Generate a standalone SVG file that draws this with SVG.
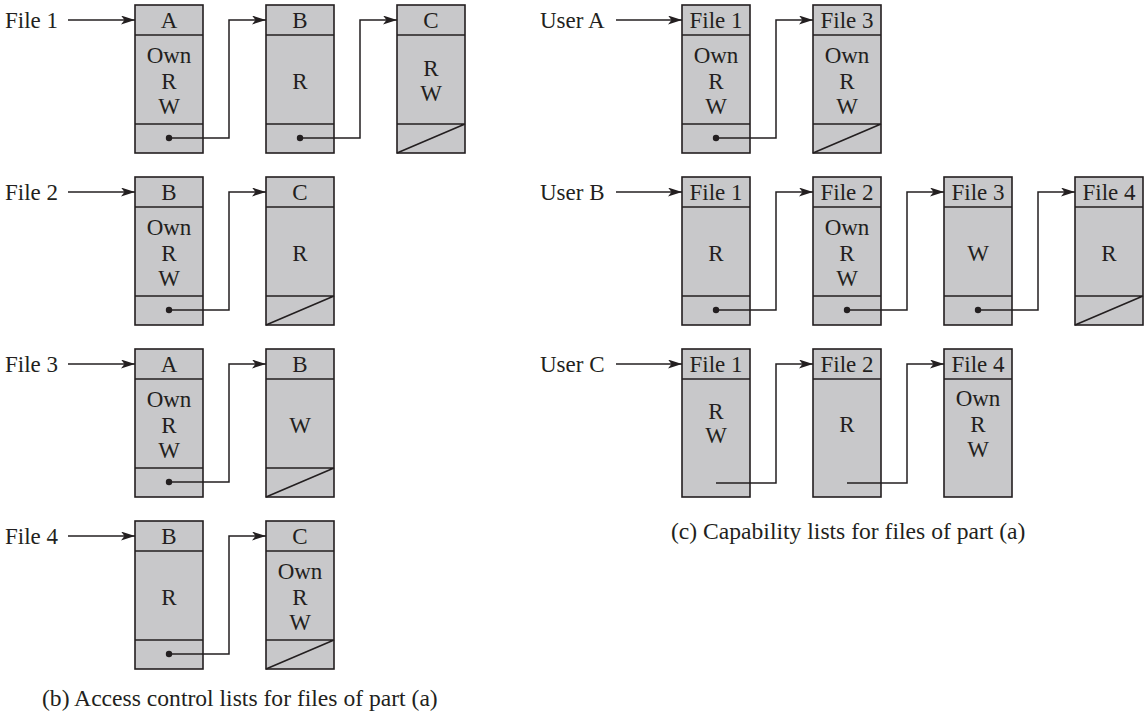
<svg xmlns="http://www.w3.org/2000/svg" width="1148" height="714" viewBox="0 0 1148 714">
<style>
text{font-family:"Liberation Serif","Times New Roman",serif;font-size:23px;fill:#231f20}
.c{text-anchor:middle}
.box{fill:#c8c8ca;stroke:#231f20;stroke-width:1.6}
.ln{fill:none;stroke:#231f20;stroke-width:1.6}
.cn{fill:none;stroke:#231f20;stroke-width:1.5}
.cap{font-size:23.6px}
</style>
<defs>
<marker id="ah" markerWidth="15" markerHeight="10" refX="14" refY="4.5" orient="auto" markerUnits="userSpaceOnUse">
<path d="M0,0 L14,4.5 L0,9 L3.5,4.5 z" fill="#231f20"/>
</marker>
<circle id="dot" r="3.2" fill="#231f20"/>
</defs>
<rect width="1148" height="714" fill="#ffffff"/>

<!-- ===== Left: ACLs ===== -->
<g id="labels-left">
<text x="5" y="28">File 1</text>
<text x="5" y="200">File 2</text>
<text x="5" y="372">File 3</text>
<text x="5" y="544">File 4</text>
</g>

<!-- Row 1 -->
<g id="f1-A">
<rect class="box" x="135" y="5" width="68" height="148"/>
<path class="ln" d="M135,35H203M135,124H203"/>
<text class="c" x="169" y="28">A</text>
<text class="c" x="169" y="63">Own</text>
<text class="c" x="169" y="89">R</text>
<text class="c" x="169" y="114">W</text>
</g>
<g id="f1-B">
<rect class="box" x="266" y="5" width="68" height="148"/>
<path class="ln" d="M266,35H334M266,124H334"/>
<text class="c" x="300" y="28">B</text>
<text class="c" x="300" y="89">R</text>
</g>
<g id="f1-C">
<rect class="box" x="397" y="5" width="68" height="148"/>
<path class="ln" d="M397,35H465M397,124H465M397,153L465,124"/>
<text class="c" x="431" y="28">C</text>
<text class="c" x="431" y="76">R</text>
<text class="c" x="431" y="101">W</text>
</g>

<!-- Row 2 -->
<g id="f2-B">
<rect class="box" x="135" y="177" width="68" height="148"/>
<path class="ln" d="M135,207H203M135,296H203"/>
<text class="c" x="169" y="200">B</text>
<text class="c" x="169" y="235">Own</text>
<text class="c" x="169" y="261">R</text>
<text class="c" x="169" y="286">W</text>
</g>
<g id="f2-C">
<rect class="box" x="266" y="177" width="68" height="148"/>
<path class="ln" d="M266,207H334M266,296H334M266,325L334,296"/>
<text class="c" x="300" y="200">C</text>
<text class="c" x="300" y="261">R</text>
</g>

<!-- Row 3 -->
<g id="f3-A">
<rect class="box" x="135" y="349" width="68" height="148"/>
<path class="ln" d="M135,379H203M135,468H203"/>
<text class="c" x="169" y="372">A</text>
<text class="c" x="169" y="407">Own</text>
<text class="c" x="169" y="433">R</text>
<text class="c" x="169" y="458">W</text>
</g>
<g id="f3-B">
<rect class="box" x="266" y="349" width="68" height="148"/>
<path class="ln" d="M266,379H334M266,468H334M266,497L334,468"/>
<text class="c" x="300" y="372">B</text>
<text class="c" x="300" y="433">W</text>
</g>

<!-- Row 4 -->
<g id="f4-B">
<rect class="box" x="135" y="521" width="68" height="148"/>
<path class="ln" d="M135,551H203M135,640H203"/>
<text class="c" x="169" y="544">B</text>
<text class="c" x="169" y="605">R</text>
</g>
<g id="f4-C">
<rect class="box" x="266" y="521" width="68" height="148"/>
<path class="ln" d="M266,551H334M266,640H334M266,669L334,640"/>
<text class="c" x="300" y="544">C</text>
<text class="c" x="300" y="579">Own</text>
<text class="c" x="300" y="605">R</text>
<text class="c" x="300" y="630">W</text>
</g>

<!-- ===== Right: Capability lists ===== -->
<g id="labels-right">
<text x="540" y="28">User A</text>
<text x="540" y="200">User B</text>
<text x="540" y="372">User C</text>
</g>

<!-- User A -->
<g id="ua-f1">
<rect class="box" x="682" y="5" width="68" height="148"/>
<path class="ln" d="M682,35H750M682,124H750"/>
<text class="c" x="716" y="28">File 1</text>
<text class="c" x="716" y="63">Own</text>
<text class="c" x="716" y="89">R</text>
<text class="c" x="716" y="114">W</text>
</g>
<g id="ua-f3">
<rect class="box" x="813" y="5" width="68" height="148"/>
<path class="ln" d="M813,35H881M813,124H881M813,153L881,124"/>
<text class="c" x="847" y="28">File 3</text>
<text class="c" x="847" y="63">Own</text>
<text class="c" x="847" y="89">R</text>
<text class="c" x="847" y="114">W</text>
</g>

<!-- User B -->
<g id="ub-f1">
<rect class="box" x="682" y="177" width="68" height="148"/>
<path class="ln" d="M682,207H750M682,296H750"/>
<text class="c" x="716" y="200">File 1</text>
<text class="c" x="716" y="261">R</text>
</g>
<g id="ub-f2">
<rect class="box" x="813" y="177" width="68" height="148"/>
<path class="ln" d="M813,207H881M813,296H881"/>
<text class="c" x="847" y="200">File 2</text>
<text class="c" x="847" y="235">Own</text>
<text class="c" x="847" y="261">R</text>
<text class="c" x="847" y="286">W</text>
</g>
<g id="ub-f3">
<rect class="box" x="944" y="177" width="68" height="148"/>
<path class="ln" d="M944,207H1012M944,296H1012"/>
<text class="c" x="978" y="200">File 3</text>
<text class="c" x="978" y="261">W</text>
</g>
<g id="ub-f4">
<rect class="box" x="1075" y="177" width="68" height="148"/>
<path class="ln" d="M1075,207H1143M1075,296H1143M1075,325L1143,296"/>
<text class="c" x="1109" y="200">File 4</text>
<text class="c" x="1109" y="261">R</text>
</g>

<!-- User C -->
<g id="uc-f1">
<rect class="box" x="682" y="349" width="68" height="148"/>
<path class="ln" d="M682,379H750"/>
<text class="c" x="716" y="419">R</text>
<text class="c" x="716" y="372">File 1</text>
<text class="c" x="716" y="443">W</text>
</g>
<g id="uc-f2">
<rect class="box" x="813" y="349" width="68" height="148"/>
<path class="ln" d="M813,379H881"/>
<text class="c" x="847" y="372">File 2</text>
<text class="c" x="847" y="432">R</text>
</g>
<g id="uc-f4">
<rect class="box" x="944" y="349" width="68" height="148"/>
<path class="ln" d="M944,379H1012"/>
<text class="c" x="978" y="372">File 4</text>
<text class="c" x="978" y="406">Own</text>
<text class="c" x="978" y="432">R</text>
<text class="c" x="978" y="457">W</text>
</g>

<!-- ===== Connectors ===== -->
<g id="connectors">
<path class="cn" d="M68,20H135" marker-end="url(#ah)"/>
<path class="cn" d="M68,192H135" marker-end="url(#ah)"/>
<path class="cn" d="M68,364H135" marker-end="url(#ah)"/>
<path class="cn" d="M68,536H135" marker-end="url(#ah)"/>
<use href="#dot" x="169" y="138"/>
<path class="cn" d="M169,138H229V20H266" marker-end="url(#ah)"/>
<use href="#dot" x="300" y="138"/>
<path class="cn" d="M300,138H360V20H397" marker-end="url(#ah)"/>
<use href="#dot" x="169" y="310"/>
<path class="cn" d="M169,310H229V192H266" marker-end="url(#ah)"/>
<use href="#dot" x="169" y="482"/>
<path class="cn" d="M169,482H229V364H266" marker-end="url(#ah)"/>
<use href="#dot" x="169" y="654"/>
<path class="cn" d="M169,654H229V536H266" marker-end="url(#ah)"/>
<path class="cn" d="M616,20H682" marker-end="url(#ah)"/>
<path class="cn" d="M616,192H682" marker-end="url(#ah)"/>
<path class="cn" d="M616,364H682" marker-end="url(#ah)"/>
<use href="#dot" x="716" y="138"/>
<path class="cn" d="M716,138H776V20H813" marker-end="url(#ah)"/>
<use href="#dot" x="716" y="310"/>
<path class="cn" d="M716,310H776V192H813" marker-end="url(#ah)"/>
<use href="#dot" x="847" y="310"/>
<path class="cn" d="M847,310H907V192H944" marker-end="url(#ah)"/>
<use href="#dot" x="978" y="310"/>
<path class="cn" d="M978,310H1038V192H1075" marker-end="url(#ah)"/>
<path class="cn" d="M716,483H776V364H813" marker-end="url(#ah)"/>
<path class="cn" d="M847,483H907V364H944" marker-end="url(#ah)"/>
</g>

<g id="captions">
<text class="cap" x="42" y="706">(b) Access control lists for files of part (a)</text>
<text class="cap" x="671" y="539">(c) Capability lists for files of part (a)</text>
</g>
</svg>
